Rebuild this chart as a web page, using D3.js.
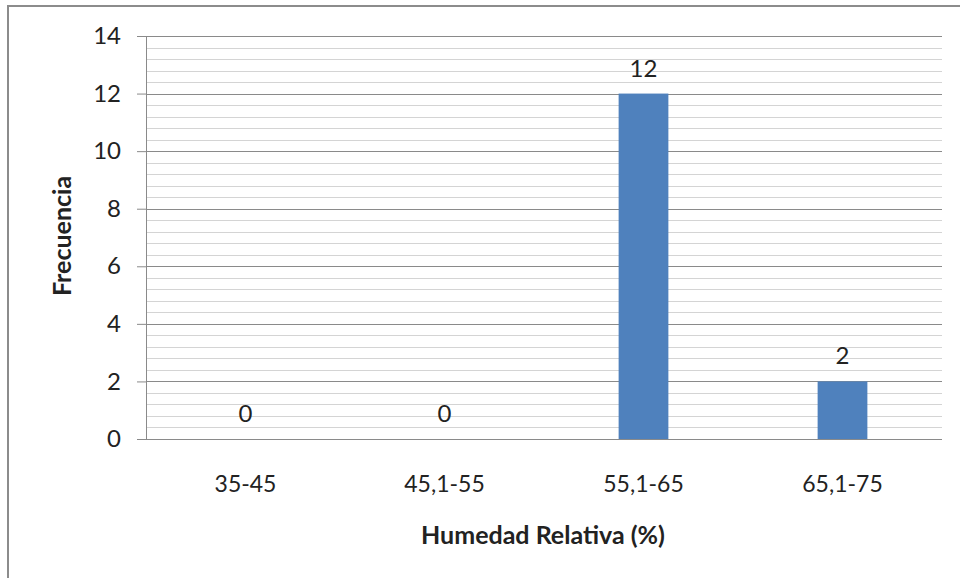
<!DOCTYPE html>
<html>
<head>
<meta charset="utf-8">
<script src="https://cdn.jsdelivr.net/npm/d3@7"></script>
<style>
  body { margin: 0; background: #fff; }
  text { font-family: Lato, "Open Sans", sans-serif; fill: #222; }
</style>
</head>
<body>
<svg id="chart"></svg>
<script>
// Humedad relativa - frecuencias
const categories = ["35-45", "45,1-55", "55,1-65", "65,1-75"];
const values = [0, 0, 12, 2];
const yTicks = [0, 2, 4, 6, 8, 10, 12, 14];

const W = 960, H = 578;
const margin = {top: 36, right: 18, bottom: 139, left: 146};
const width = W - margin.left - margin.right;
const height = H - margin.top - margin.bottom;

const svg = d3.select("#chart").attr("width", W).attr("height", H);

// outer border
svg.append("rect")
  .attr("x", 8).attr("y", 6)
  .attr("width", W).attr("height", H)
  .attr("fill", "none")
  .attr("stroke", "#8c8c8c")
  .attr("stroke-width", 2);

const chart = svg.append("g")
  .attr("transform", `translate(${margin.left},${margin.top})`);

const x = d3.scaleBand().domain(categories).range([0, width]).paddingInner(0.75).paddingOuter(0.375);
const y = d3.scaleLinear().domain([0, 14]).range([height, 0]);

// minor gridlines
const minor = d3.range(0, 14.001, 0.4).filter(v => Math.abs(v / 2 - Math.round(v / 2)) > 0.01);
chart.selectAll(".minor").data(minor).enter().append("line")
  .attr("x1", 0).attr("x2", width)
  .attr("y1", d => Math.round(y(d)) + 0.5).attr("y2", d => Math.round(y(d)) + 0.5)
  .attr("stroke", "#d4d4d4");

// major gridlines
chart.selectAll(".major").data(yTicks.slice(1)).enter().append("line")
  .attr("x1", 0).attr("x2", width)
  .attr("y1", d => Math.round(y(d)) + 0.5).attr("y2", d => Math.round(y(d)) + 0.5)
  .attr("stroke", "#8a8a8a");

// bars
chart.selectAll(".bar").data(values).enter().append("rect")
  .attr("x", (d, i) => x(categories[i]))
  .attr("y", d => y(d))
  .attr("width", x.bandwidth())
  .attr("height", d => height - y(d))
  .attr("fill", "#4f81bd");

// data labels
chart.selectAll(".lbl").data(values).enter().append("text")
  .attr("x", (d, i) => x(categories[i]) + x.bandwidth() / 2)
  .attr("y", d => y(d) - 17)
  .attr("text-anchor", "middle")
  .style("font-size", "24px")
  .text(d => d);

// y axis
const yAxis = d3.axisLeft(y).tickValues(yTicks).tickSize(9).tickPadding(16).tickSizeOuter(0);
const yG = chart.append("g").call(yAxis);
yG.selectAll("text").style("font-size", "24px").attr("fill", "#222");
yG.selectAll("line, path").attr("stroke", "#8a8a8a");

// x axis
const xAxis = d3.axisBottom(x).tickSize(0).tickPadding(37);
const xG = chart.append("g").attr("transform", `translate(0,${height})`).call(xAxis);
xG.select("path").attr("d", `M-9,0.5H${width}`).attr("stroke", "#8a8a8a");
xG.selectAll("text").style("font-size", "23px").attr("fill", "#222");

// axis titles
svg.append("text")
  .attr("transform", `translate(71,236) rotate(-90)`)
  .attr("text-anchor", "middle")
  .style("font-size", "25px").style("font-weight", "bold")
  .text("Frecuencia");

svg.append("text")
  .attr("x", 543).attr("y", 544)
  .attr("text-anchor", "middle")
  .style("font-size", "25px").style("font-weight", "bold")
  .text("Humedad Relativa (%)");
</script>
</body>
</html>
